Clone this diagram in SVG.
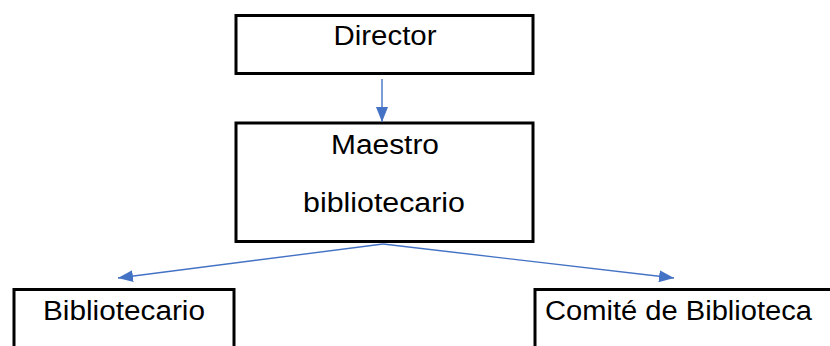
<svg xmlns="http://www.w3.org/2000/svg" width="830" height="346" viewBox="0 0 830 346">
<defs>
<style>
.box{fill:#fff;stroke:#000;stroke-width:3}
.lbl{font-family:"Liberation Sans",Arial,sans-serif;font-size:27px;fill:#000}
.con{stroke:#4472C4;stroke-width:1.4;fill:none}
</style>
<marker id="arr" markerUnits="userSpaceOnUse" markerWidth="16" markerHeight="12" refX="15" refY="6" orient="auto">
<path d="M0,0 L15,6 L0,12 Z" fill="#4472C4"/>
</marker>
</defs>
<rect width="830" height="346" fill="#fff"/>
<g id="director">
<rect class="box" x="236" y="15.5" width="297" height="58"/>
<text class="lbl" x="385" y="45" text-anchor="middle" textLength="103" lengthAdjust="spacingAndGlyphs">Director</text>
</g>
<g id="maestro">
<rect class="box" x="236" y="123" width="297" height="118.5"/>
<text class="lbl" x="385" y="154" text-anchor="middle" textLength="108" lengthAdjust="spacingAndGlyphs">Maestro</text>
<text class="lbl" x="384" y="212" text-anchor="middle" textLength="162" lengthAdjust="spacingAndGlyphs">bibliotecario</text>
</g>
<g id="bibliotecario">
<rect class="box" x="14" y="289.5" width="220" height="70"/>
<text class="lbl" x="124" y="320" text-anchor="middle" textLength="162" lengthAdjust="spacingAndGlyphs">Bibliotecario</text>
</g>
<g id="comite">
<rect class="box" x="535" y="289.5" width="310" height="70"/>
<text class="lbl" x="545" y="320" textLength="267" lengthAdjust="spacingAndGlyphs">Comité de Biblioteca</text>
</g>
<g id="connectors">
<line class="con" x1="382" y1="79" x2="382" y2="122" marker-end="url(#arr)"/>
<line class="con" x1="383" y1="244" x2="118" y2="278" marker-end="url(#arr)"/>
<line class="con" x1="383" y1="244" x2="674" y2="278" marker-end="url(#arr)"/>
</g>
</svg>
